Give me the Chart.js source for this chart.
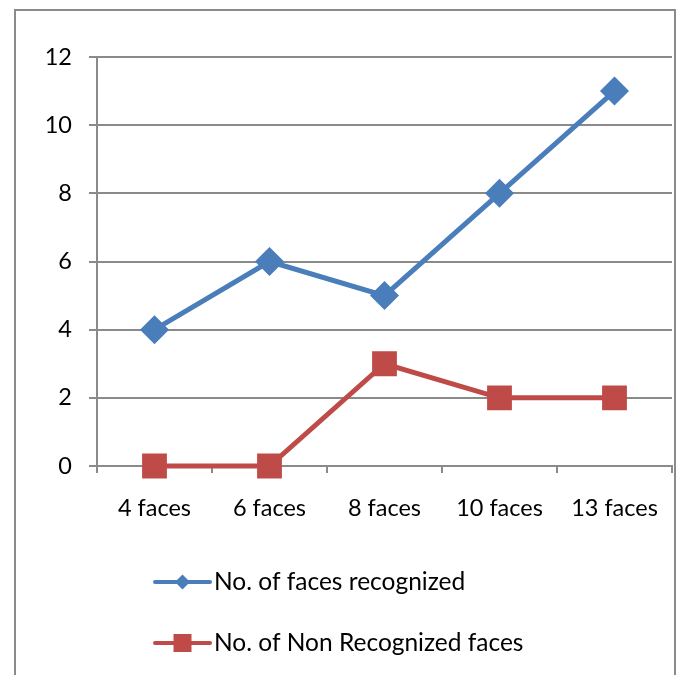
<!DOCTYPE html>
<html>
<head>
<meta charset="utf-8">
<script src="https://cdn.jsdelivr.net/npm/chart.js@4.4.0/dist/chart.umd.min.js"></script>
<style>
  body { margin: 0; background: #fff; overflow: hidden; }
  #frame {
    position: absolute; left: 14px; top: 9px;
    width: 658px; height: 700px;
    border: 2px solid #8a8a8a;
  }
  #wrap { position: absolute; left: 0; top: 0; width: 680px; height: 675px; }
</style>
</head>
<body>
<div id="frame"></div>
<div id="wrap"><canvas id="chart" width="680" height="675"></canvas></div>
<script>
// Données du graphique
const categories = ['4 faces', '6 faces', '8 faces', '10 faces', '13 faces'];
const recognized = [4, 6, 5, 8, 11];
const nonRecognized = [0, 0, 3, 2, 2];
const yTicks = [0, 2, 4, 6, 8, 10, 12];

const FONT = 'Lato, Calibri, sans-serif';
const BLUE = '#4a7ebb';
const RED = '#be4b48';
const GRID = '#8a8a8a';

// Légende dessinée à la main (trait + marqueur, en colonne)
const legendPlugin = {
    id: 'lineLegend',
    afterDraw(chart) {
        const ctx = chart.ctx;
        const area = chart.chartArea;
        const x0 = area.left + 58;
        const rows = [area.bottom + 116, area.bottom + 177];
        chart.data.datasets.forEach((ds, i) => {
            const y = rows[i];
            ctx.save();
            ctx.strokeStyle = ds.borderColor;
            ctx.lineWidth = 4;
            ctx.lineCap = 'round';
            ctx.beginPath();
            ctx.moveTo(x0, y);
            ctx.lineTo(x0 + 55, y);
            ctx.stroke();
            ctx.fillStyle = ds.backgroundColor;
            const cx = x0 + 27.5;
            ctx.beginPath();
            if (ds.pointStyle === 'rectRot') {
                ctx.moveTo(cx, y - 7.5);
                ctx.lineTo(cx + 7.5, y);
                ctx.lineTo(cx, y + 7.5);
                ctx.lineTo(cx - 7.5, y);
                ctx.closePath();
            } else {
                ctx.rect(cx - 9, y - 9, 18, 18);
            }
            ctx.fill();
            ctx.fillStyle = '#000';
            ctx.font = '24.5px ' + FONT;
            ctx.textBaseline = 'middle';
            ctx.fillText(ds.label, x0 + 59, y);
            ctx.restore();
        });
    }
};

new Chart(document.getElementById('chart'), {
    type: 'line',
    data: {
        labels: categories,
        datasets: [
            {
                label: 'No. of faces recognized',
                data: recognized,
                borderColor: BLUE,
                backgroundColor: BLUE,
                borderWidth: 5,
                pointStyle: 'rectRot',
                pointRadius: 11,
                pointHoverRadius: 11,
                tension: 0,
                clip: false
            },
            {
                label: 'No. of Non Recognized faces',
                data: nonRecognized,
                borderColor: RED,
                backgroundColor: RED,
                borderWidth: 5,
                pointStyle: 'rect',
                pointRadius: 14,
                pointHoverRadius: 14,
                tension: 0,
                clip: false
            }
        ]
    },
    options: {
        responsive: false,
        animation: false,
        layout: {
            autoPadding: false,
            padding: { top: 57, right: 8, bottom: 150, left: 0 }
        },
        plugins: {
            legend: { display: false },
            tooltip: { enabled: false }
        },
        scales: {
            x: {
                offset: true,
                grid: {
                    offset: true,
                    drawOnChartArea: false,
                    drawTicks: true,
                    tickLength: 7,
                    color: GRID,
                    lineWidth: 2
                },
                border: { color: GRID, width: 2 },
                ticks: {
                    color: '#000',
                    font: { family: FONT, size: 23.5 },
                    padding: 21,
                    maxRotation: 0
                },
                afterFit(scale) {
                    scale.height = 59;
                    scale.paddingLeft = 0;
                    scale.paddingRight = 0;
                }
            },
            y: {
                min: 0,
                max: 12,
                afterBuildTicks(scale) {
                    scale.ticks = yTicks.map(v => ({ value: v }));
                },
                grid: {
                    color: GRID,
                    lineWidth: 2,
                    drawTicks: true,
                    tickLength: 8
                },
                border: { color: GRID, width: 2 },
                ticks: {
                    color: '#000',
                    font: { family: FONT, size: 23.5 },
                    padding: 17
                },
                afterFit(scale) {
                    scale.width = 97;
                    scale.paddingTop = 0;
                    scale.paddingBottom = 0;
                }
            }
        }
    },
    plugins: [legendPlugin]
});
</script>
</body>
</html>
